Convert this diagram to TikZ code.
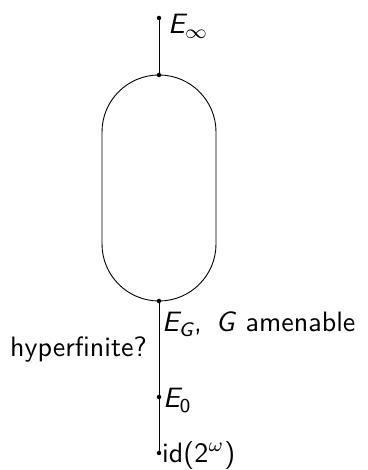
\documentclass[tikz,border=0pt]{standalone}
\usepackage{amsmath}
\usepackage{graphicx}
\newcommand{\bigtxt}[1]{\scalebox{2.8}{#1}}
\begin{document}
\begin{tikzpicture}[x=1pt,y=1pt,
  dot/.style={circle,fill=black,inner sep=0pt,minimum size=4.5pt},
  lab/.style={inner sep=0pt,font=\sffamily\fontsize{10}{12}\selectfont},
  edge/.style={line width=0.9pt}]
\useasboundingbox (0,0) rectangle (367,470);
% stadium
\draw[edge] (102,226) -- (102,338) arc[start angle=180,end angle=0,radius=57]
  -- (216,226) arc[start angle=0,end angle=-180,radius=57] -- cycle;
% dots
\node[dot] (einf) at (159,452) {};
\node[dot] (stop) at (159,395) {};
\node[dot] (sbot) at (159,169) {};
\node[dot] (ezero) at (159,73) {};
\node[dot] (idd) at (159,17) {};
% connectors
\draw[edge] (einf.center) -- (stop.center);
\draw[edge] (sbot.center) -- (ezero.center);
\draw[edge] (ezero.center) -- (idd.center);
% labels
\node[lab,anchor=base west] (tinf) at (168,436) {\bigtxt{$\textit{E}_\infty$}};
\node[lab,anchor=base west] (tg) at (162,138) {\bigtxt{$\textit{E}_{\textit{G}}$,\, \textit{G} amenable}};
\node[lab,anchor=base east] (th) at (147,113) {\bigtxt{hyperfinite?}};
\node[lab,anchor=base west] (t0) at (163,62) {\bigtxt{$\textit{E}_{\text{0}}$}};
\node[lab,anchor=base west] (tid) at (162,8) {\bigtxt{id(2$^\omega$)}};
\end{tikzpicture}
\end{document}
